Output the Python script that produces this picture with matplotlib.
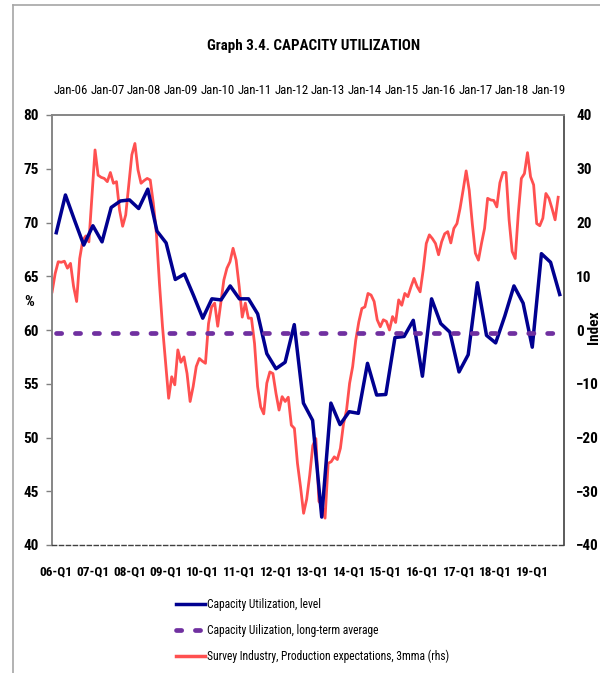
import matplotlib
matplotlib.use("Agg")
import matplotlib.pyplot as plt
from matplotlib import font_manager
from matplotlib.lines import Line2D
import numpy as np

# pick a narrow font if there is one
names = set(f.name for f in font_manager.fontManager.ttflist)
fam = "DejaVu Sans"
for cand in ["Liberation Sans Narrow", "DejaVu Sans Condensed", "Roboto Condensed", "Liberation Sans"]:
    if cand in names:
        fam = cand
        break
plt.rcParams["font.family"] = [fam, "DejaVu Sans"]

# quarterly capacity utilization, 06-Q1 .. 19-Q4
quarters = ["%02d-Q%d" % (y, q) for y in range(6, 20) for q in range(1, 5)]
cu_level = [69.05, 72.56, 70.2, 67.9, 69.7, 68.2, 71.4, 72.0, 72.1, 71.3, 73.1, 69.2,
            68.1, 64.7, 65.2, 63.2, 61.1, 62.9, 62.8, 64.1, 62.9, 62.9, 61.5, 57.8,
            56.4, 57.0, 60.5, 53.2, 51.6, 42.6, 53.2, 51.2, 52.4, 52.25, 56.9, 53.95,
            54.0, 59.3, 59.4, 60.9, 55.7, 62.9, 60.6, 59.8, 56.1, 57.7, 64.4, 59.5,
            58.8, 61.3, 64.1, 62.5, 58.4, 67.1, 66.3, 63.3]
cu_avg = 59.75

# monthly production expectations, 3mma (rhs); first value is 6 months before Jan-06
exp_start = -6
prod_exp = [
    7.1, 10.5, 12.7, 12.6, 12.8, 11.5,
    12.4, 8.1, 5.3, 13.3, 16.7, 17.5, 16.4, 25.0, 33.5, 28.8, 28.4, 28.2,
    27.6, 29.3, 27.3, 27.6, 22.3, 19.3, 21.4, 27.0, 32.6, 34.7, 29.8, 27.3,
    27.8, 28.2, 27.9, 23.6, 18.0, 8.7, 0.6, -6.0, -12.7, -8.7, -10.2, -3.7,
    -6.0, -5.0, -8.1, -13.3, -10.5, -6.8, -5.3, -5.8, -6.2, 1.2, 4.3, 5.0,
    0.7, 5.0, 9.3, 11.5, 12.7, 15.2, 13.0, 8.1, 2.4, 5.0, 2.2, 2.2,
    -2.5, -10.5, -14.3, -15.6, -9.9, -7.8, -8.1, -11.8, -14.9, -12.4, -13.3, -12.5,
    -17.7, -18.3, -24.8, -29.2, -34.1, -31.5, -27.0, -21.5, -20.2, -31.9, -32.6, -35.0,
    -24.8, -24.5, -23.6, -24.1, -22.0, -17.5, -14.9, -9.9, -6.8, -1.9, 1.5, 4.0,
    4.3, 6.8, 6.5, 5.3, 1.9, 0.6, 1.9, 1.6, 0.0, 2.5, 1.4, 5.6,
    4.6, 6.8, 6.2, 8.0, 9.6, 8.1, 7.1, 11.2, 16.1, 17.7, 17.0, 16.1,
    14.0, 16.4, 17.9, 18.3, 16.2, 18.9, 19.8, 22.6, 26.0, 29.6, 26.0, 19.8,
    14.3, 13.0, 16.1, 18.9, 24.5, 24.2, 24.1, 22.9, 27.4, 29.3, 29.3, 20.5,
    14.6, 13.3, 21.7, 28.2, 29.1, 33.0, 28.5, 27.0, 19.8, 19.4, 20.8, 25.4,
    24.5, 22.6, 20.5, 24.7,
]
top_labels = ["Jan-%02d" % y for y in range(6, 20)]

labels = ["Capacity Utilization, level",
          "Capacity Uilization, long-term average",
          "Survey Industry, Production expectations, 3mma (rhs)"]

c_blue = "#000090"
c_purple = "#7030A0"
c_red = "#FF5050"

W, H = 600, 673
fig = plt.figure(figsize=(W / 100, H / 100), dpi=100)
pos = [51.7 / W, 1 - 545 / H, (564.3 - 51.7) / W, (545 - 115) / H]

# red series on its own (monthly) axes, drawn underneath
axr = fig.add_axes(pos, frameon=False, zorder=1)
xm = np.arange(exp_start, exp_start + len(prod_exp))
axr.plot(xm, prod_exp, color=c_red, lw=2.0, solid_joinstyle="round")
axr.set_xlim(-6.13, 161.0)
axr.set_ylim(-40, 40)
axr.xaxis.tick_top()
axr.set_xticks(np.arange(0, 12 * len(top_labels), 12))
axr.set_xticklabels(top_labels, fontsize=9.2)
axr.tick_params(axis="x", length=0, pad=13)
axr.yaxis.tick_right()
axr.set_yticks(np.arange(-40, 41, 10))
axr.tick_params(axis="y", length=0, pad=8.5, labelsize=11)
for t in axr.get_yticklabels():
    t.set_fontweight("bold")

# quarterly series
ax = fig.add_axes(pos, zorder=2)
ax.patch.set_alpha(0)
xq = np.arange(len(cu_level))
ax.plot(xq, cu_level, color=c_blue, lw=2.5, solid_joinstyle="round")
ax.plot(xq, np.full(len(xq), cu_avg), color=c_purple, lw=3.4,
        dashes=(1.1, 2.9), dash_capstyle="round")
ax.set_xlim(-0.5, len(cu_level) - 0.5)
ax.set_ylim(40, 80)
ax.set_yticks(np.arange(40, 81, 5))
ax.tick_params(axis="y", direction="out", length=4, width=1, color="#808080",
               pad=5, labelsize=11)
for t in ax.get_yticklabels():
    t.set_fontweight("bold")
ax.set_xticks(xq[::4])
ax.set_xticklabels(quarters[::4], fontsize=9.5, fontweight="bold")
ax.tick_params(axis="x", length=0, pad=15)

for s in ["left", "top"]:
    ax.spines[s].set_color("#868686")
    ax.spines[s].set_linewidth(1.4)
ax.spines["right"].set_color("#404040")
ax.spines["right"].set_linewidth(1.2)
ax.spines["bottom"].set_color("#404040")
ax.spines["bottom"].set_linewidth(1.0)
ax.spines["bottom"].set_linestyle((0, (3, 2)))

fig.text(314 / W, 1 - 46 / H, "Graph 3.4. CAPACITY UTILIZATION", ha="center",
         va="center", fontsize=10.8, fontweight="bold")
fig.text(29 / W, 1 - 302 / H, "%", ha="center", va="center", fontsize=11,
         fontweight="bold")
fig.text(594 / W, 1 - 327 / H, "Index", ha="center", va="center", fontsize=11,
         fontweight="bold", rotation=90)

handles = [Line2D([], [], color=c_blue, lw=2.5),
           Line2D([], [], color=c_purple, lw=3.4, dashes=(1.1, 2.9), dash_capstyle="round"),
           Line2D([], [], color=c_red, lw=2.5)]
fig.legend(handles, labels, loc="upper left", bbox_to_anchor=(176 / W, 1 - 598 / H),
           frameon=False, fontsize=8.3, handlelength=2.5, handletextpad=0.2,
           labelspacing=1.1, borderaxespad=0, borderpad=0)

# grey outer frame
fy = 1 - 5 / H
fx = 13 / W
fig.add_artist(Line2D([fx, fx], [0, fy], transform=fig.transFigure, color="#A6A6A6", lw=1.2))
fig.add_artist(Line2D([fx, 1], [fy, fy], transform=fig.transFigure, color="#A6A6A6", lw=1.2))

fig.savefig("out.png", dpi=100)
